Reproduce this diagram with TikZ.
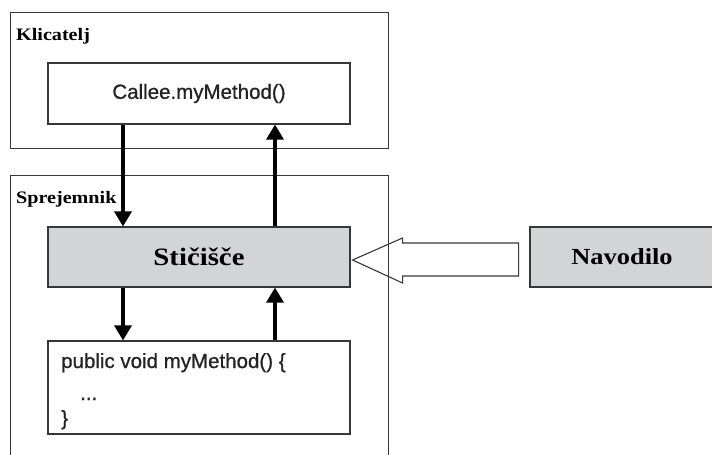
\documentclass[tikz,border=0pt]{standalone}
\usepackage{fontspec}
\setmainfont{Liberation Serif}
\newfontfamily\headfont{Liberation Serif}[FakeStretch=1.15]
\newfontfamily\arialfont{Liberation Sans}[FakeBold=0.8]
\usetikzlibrary{arrows.meta,calc}
\definecolor{boxgray}{RGB}{211,212,214}
\definecolor{linegray}{RGB}{55,55,55}
\definecolor{textgray}{RGB}{35,35,35}
\tikzset{
  frame/.style={draw=linegray, line width=0.9pt, inner sep=0pt},
  box/.style={draw=linegray, line width=1.1pt, inner sep=0pt, minimum width=302pt},
  title/.style={anchor=base west, inner sep=0pt, font=\headfont\bfseries\fontsize{17.5}{20}\selectfont},
  code/.style={anchor=base west, inner sep=0pt, text=textgray, font=\arialfont\fontsize{20.5}{24}\selectfont},
  flow/.style={line width=3.2pt, -{Triangle[width=17pt,length=15pt]}}
}
\begin{document}
\begin{tikzpicture}[x=1pt, y=-1pt]
\useasboundingbox (0,0) rectangle (712,455);
\clip (0,0) rectangle (712,455);
\node (klicatelj)[frame, minimum width=378pt, minimum height=136pt] at (199,80) {};
\node (klicateljlabel)[title] at (16,40) {Klicatelj};
\node (callee)[box, minimum height=61pt, text=textgray, font=\arialfont\fontsize{20.5}{24}\selectfont] at (199,93.5) {Callee.myMethod()};
\node (sprejemnik)[frame, minimum width=378pt, minimum height=300pt] at (199,325) {};
\node (sprejemniklabel)[title] at (16,203) {Sprejemnik};
\node (stic)[box, fill=boxgray, minimum height=60pt, font=\headfont\bfseries\fontsize{25}{28}\selectfont] at (199,257) {Stičišče};
\node (method)[box, minimum height=93pt] at (199,387.5) {};
\node (code1)[code] at (61,368) {public void myMethod() \{};
\node (code2)[code] at (80,400) {...};
\node (code3)[code] at (61,425) {\}};
\node (navodilo)[box, fill=boxgray, minimum width=184pt, minimum height=60pt, font=\headfont\bfseries\fontsize{23}{26}\selectfont] at (622,257) {Navodilo};
\draw[flow] ([xshift=-76pt]callee.south) -- ([xshift=-76pt]stic.north);
\draw[flow] ([xshift=76pt]stic.north) -- ([xshift=76pt]callee.south);
\draw[flow] ([xshift=-76pt]stic.south) -- ([xshift=-76pt]method.north);
\draw[flow] ([xshift=76pt]method.north) -- ([xshift=76pt]stic.south);
% hollow arrow from Navodilo
\draw[linegray, line width=1.1pt] ($(stic.east)+(2,3)$) -- ++(50,-22) -- ++(0,5) -- ++(116,0) -- ++(0,33) -- ++(-116,0) -- ++(0,7) -- cycle;
\end{tikzpicture}
\end{document}
